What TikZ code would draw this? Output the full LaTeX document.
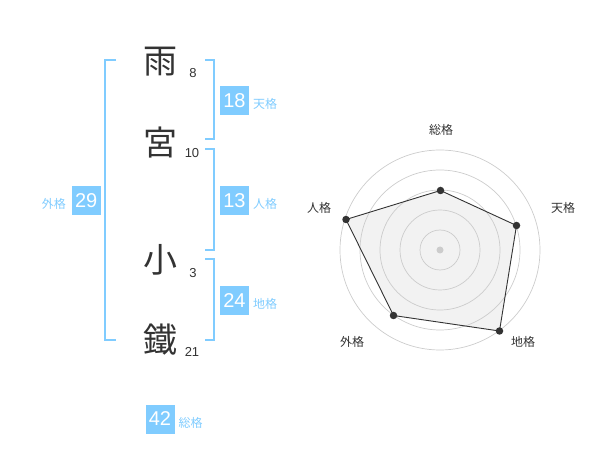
\documentclass[tikz,border=0pt]{standalone}
\usepackage{fontspec}
\setmainfont{Liberation Sans}
\newfontfamily\cjk{Noto Sans CJK JP}
\definecolor{kblue}{HTML}{80CCFF}
\definecolor{kdark}{HTML}{333333}
\definecolor{kgrid}{HTML}{CCCCCC}
\definecolor{kfill}{HTML}{F2F2F2}
\begin{document}
\begin{tikzpicture}[x=1pt,y=-1pt,
  kanji/.style={font=\cjk\fontsize{34}{34}\selectfont, text=kdark, inner sep=0pt},
  strokes/.style={font=\fontsize{13}{13}\selectfont, text=kdark, inner sep=0pt},
  numbox/.style={fill=kblue, text=white, minimum width=29pt, minimum height=29pt, inner sep=0pt, font=\fontsize{20}{20}\selectfont},
  kaku/.style={font=\cjk\fontsize{12}{12}\selectfont, text=kblue, inner sep=0pt},
  brk/.style={draw=kblue, line width=2pt},
  grid/.style={draw=kgrid, line width=0.7pt},
  poly/.style={draw=kdark, line width=0.9pt},
  dot/.style={circle, fill=kdark, inner sep=0pt, minimum size=7.5pt},
  axlabel/.style={font=\cjk\fontsize{12}{12}\selectfont, text=kdark, inner sep=0pt}]
\useasboundingbox (0,0) rectangle (600,470);
% characters
\node[kanji] (c1) at (160,62) {雨};
\node[kanji] (c2) at (160,143) {宮};
\node[kanji] (c3) at (160,260) {小};
\node[kanji] (c4) at (160,340) {鐵};
\node[strokes] (s1) at (193,73) {8};
\node[strokes] (s2) at (192,153.5) {10};
\node[strokes] (s3) at (193,273) {3};
\node[strokes] (s4) at (192,352) {21};
% brackets
\draw[brk] (116,60) -- (105,60) -- (105,340) -- (116,340);
\draw[brk] (205,60) -- (214,60) -- (214,139.5) -- (205,139.5);
\draw[brk] (205,149.5) -- (214,149.5) -- (214,250) -- (205,250);
\draw[brk] (205,259.5) -- (214,259.5) -- (214,340) -- (205,340);
% boxes
\node[numbox] (b1) at (234.5,100.5) {18};
\node[kaku, anchor=west] (k1) at (253,103.5) {天格};
\node[numbox] (b2) at (234.5,200.5) {13};
\node[kaku, anchor=west] (k2) at (253,203.5) {人格};
\node[numbox] (b3) at (234.5,300.5) {24};
\node[kaku, anchor=west] (k3) at (253,303.5) {地格};
\node[numbox] (b4) at (86.2,200.5) {29};
\node[kaku, anchor=east] (k4) at (66,203.5) {外格};
\node[numbox] (b5) at (160,419) {42};
\node[kaku, anchor=west] (k5) at (178.5,422.5) {総格};
% radar
\coordinate (o) at (440,250);
\coordinate (p1) at (440.5,190.5);
\coordinate (p2) at (516.5,225.5);
\coordinate (p3) at (499.5,331);
\coordinate (p4) at (393.5,315.5);
\coordinate (p5) at (346,219.5);
\fill[kfill] (p1) -- (p2) -- (p3) -- (p4) -- (p5) -- cycle;
\foreach \r in {20,40,60,80,100} \draw[grid] (o) circle[radius=\r];
\fill[kgrid] (o) circle[radius=3.5];
\draw[poly] (p1) -- (p2) -- (p3) -- (p4) -- (p5) -- cycle;
\foreach \p in {p1,p2,p3,p4,p5} \node[dot] at (\p) {};
\node[axlabel] (a1) at (441,130) {総格};
\node[axlabel] (a2) at (563,208) {天格};
\node[axlabel] (a3) at (523,342) {地格};
\node[axlabel] (a4) at (352,342) {外格};
\node[axlabel] (a5) at (319,208) {人格};
\end{tikzpicture}
\end{document}
